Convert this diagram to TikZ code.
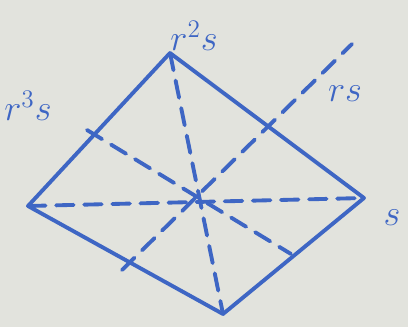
\documentclass[tikz,border=0pt]{standalone}
\usepackage{tikz}
\usetikzlibrary{arrows.meta}

\definecolor{marker}{RGB}{62,102,196}
\definecolor{board}{RGB}{226,227,221}

\begin{document}
\begin{tikzpicture}[x=0.02cm, y=-0.02cm, line width=2.2pt, line cap=round, line join=round,
  axis/.style={marker, dash pattern=on 10pt off 6pt},
  lbl/.style={marker, font=\huge, inner sep=1pt}]
  % fondo
  \fill[board] (0,0) rectangle (408,327);
  \useasboundingbox (0,0) rectangle (408,327);
  % vertices
  \coordinate (top) at (170,53);
  \coordinate (rgt) at (364,198);
  \coordinate (bot) at (223,314);
  \coordinate (lft) at (28,206);
  \coordinate (ctr) at (200,198);
  % puntos medios
  \coordinate (mtl) at (87,130);
  \coordinate (mtr) at (268,123);
  \coordinate (mbr) at (291,254);
  \coordinate (mbl) at (122,270);
  \coordinate (ext) at (352,44);
  % cuadrado
  \draw[marker] (top) -- (rgt) -- (bot) -- (lft) -- cycle;
  % ejes de simetria
  \draw[axis] (lft) -- (rgt);
  \draw[axis] (top) -- (bot);
  \draw[axis] (mtl) -- (mbr);
  \draw[axis] (mbl) -- (ext);
  % etiquetas
  \node[lbl] (l2) at (194,36) {$r^2s$};
  \node[lbl] (l1) at (345,94) {$rs$};
  \node[lbl] (l3) at (28,106) {$r^3s$};
  \node[lbl] (l0) at (392,218) {$s$};
\end{tikzpicture}
\end{document}
